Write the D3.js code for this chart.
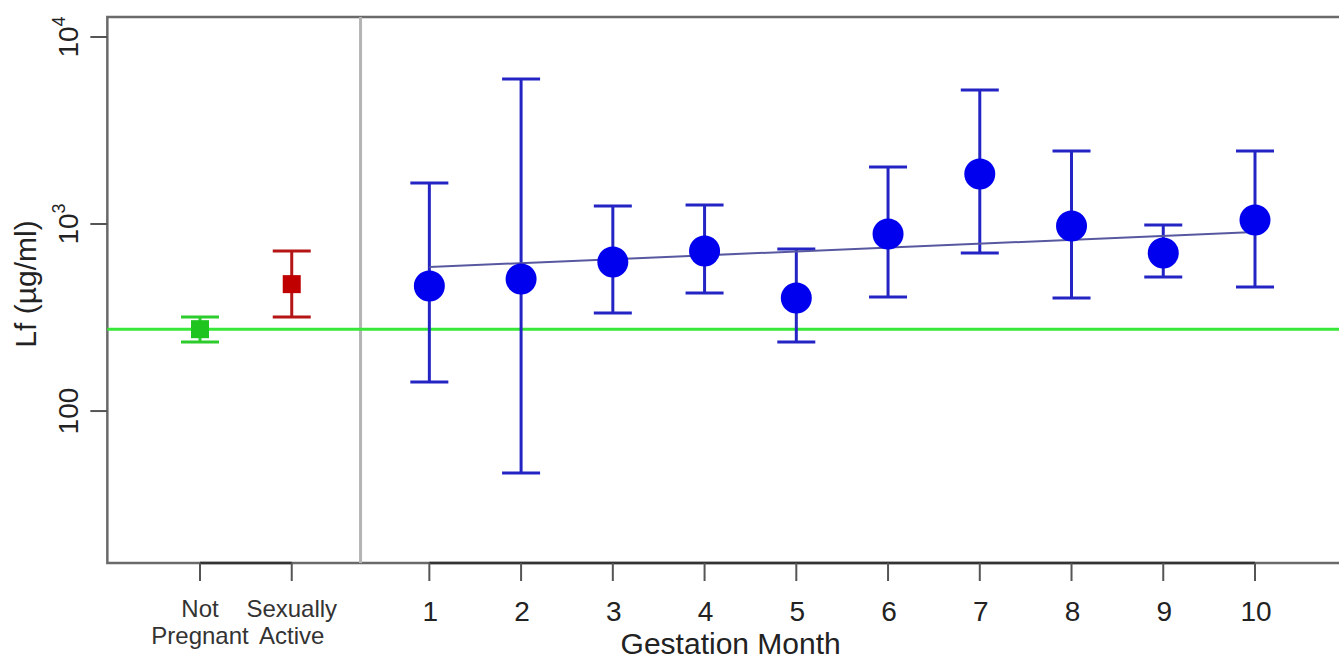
<!DOCTYPE html>
<html>
<head>
<meta charset="utf-8">
<script src="https://cdn.jsdelivr.net/npm/d3@7"></script>
<style>
  body { margin: 0; background: #fff; }
  svg { display: block; font-family: "Liberation Sans", Arial, sans-serif; }
</style>
</head>
<body>
<div id="chart"></div>
<script>
// ------------------------------------------------------
// Data (Lf in µg/ml, log scale)

// Reference groups on the left
const groupLabels = [['Not', 'Pregnant'], ['Sexually', 'Active']]
const groupPos = [-1.5, -0.5]
const groupMean = [274, 477]
const groupUpper = [318, 718]
const groupLower = [234, 318]
const groupColors = ['#1fc41f', '#c00000']
const groupBarColors = ['#2ccc2c', '#b51515']

// Gestation months
const months = [1, 2, 3, 4, 5, 6, 7, 8, 9, 10]
const monthMean = [466, 508, 627, 718, 402, 884, 1850, 975, 700, 1050]
const monthUpper = [1656, 5960, 1248, 1264, 735, 2018, 5210, 2455, 988, 2455]
const monthLower = [143, 46.6, 334, 428, 234, 407, 700, 402, 521, 461]

// Fitted trend (month 1 -> month 10) and the not-pregnant reference level
const fitMonths = [1, 10]
const fitValues = [589, 906]
const baseline = 274

// Y ticks
const yTicks = [100, 1000, 10000]

// ------------------------------------------------------
// Size and scales
const width = 1339
const height = 662

const x = d3.scaleLinear()
	.domain([-1.5, 10])
	.range([200, 1255])

const y = d3.scaleLog()
	.domain([15.4, 12790])
	.range([563, 17])

const boxLeft = x(-2.51)
const boxRight = 1354 // the right edge of the box sits just past the picture
const boxTop = y.range()[1]
const boxBottom = y.range()[0]

const svg = d3.select('#chart')
	.append('svg')
	.attr('width', width)
	.attr('height', height)

// ------------------------------------------------------
// Plot box
svg.append('rect')
	.attr('x', boxLeft)
	.attr('y', boxTop)
	.attr('width', boxRight - boxLeft)
	.attr('height', boxBottom - boxTop)
	.attr('fill', 'none')
	.attr('stroke', '#6a6a6a')
	.attr('stroke-width', 2.5)

// Separator between reference groups and months
svg.append('line')
	.attr('x1', x(0.25)).attr('x2', x(0.25))
	.attr('y1', boxTop).attr('y2', boxBottom)
	.attr('stroke', '#b4b4b4')
	.attr('stroke-width', 3)

// Not-pregnant reference level
svg.append('line')
	.attr('x1', boxLeft).attr('x2', width)
	.attr('y1', y(baseline)).attr('y2', y(baseline))
	.attr('stroke', '#38e838')
	.attr('stroke-width', 3)

// ------------------------------------------------------
// Y axis (ticks only, labels rotated like R)
const yAxis = svg.append('g')

yAxis.selectAll('line')
	.data(yTicks)
	.enter()
	.append('line')
	.attr('x1', boxLeft - 17).attr('x2', boxLeft)
	.attr('y1', d => y(d)).attr('y2', d => y(d))
	.attr('stroke', '#555')
	.attr('stroke-width', 2)

const yLab = yAxis.selectAll('text')
	.data(yTicks)
	.enter()
	.append('text')
	.attr('transform', d => `translate(78, ${y(d)}) rotate(-90)`)
	.attr('text-anchor', 'middle')
	.attr('font-size', 28)
	.attr('fill', '#222')

yLab.each(function (d) {
	const t = d3.select(this)
	const exp = Math.round(Math.log10(d))
	if (exp <= 2) {
		t.text(d)
	} else {
		t.append('tspan').text('10')
		t.append('tspan')
			.attr('dy', -13)
			.attr('font-size', 18)
			.text(exp)
	}
})

svg.append('text')
	.attr('transform', `translate(36, ${(boxTop + boxBottom) / 2 - 6}) rotate(-90)`)
	.attr('text-anchor', 'middle')
	.attr('font-size', 30)
	.attr('fill', '#222')
	.text('Lf (µg/ml)')

// ------------------------------------------------------
// X axis: two dark segments over the box line, like R's axis()
const xAxis = svg.append('g')

const segments = [groupPos, months]
xAxis.selectAll('line.seg')
	.data(segments)
	.enter()
	.append('line')
	.attr('class', 'seg')
	.attr('x1', d => x(d3.min(d))).attr('x2', d => x(d3.max(d)))
	.attr('y1', boxBottom).attr('y2', boxBottom)
	.attr('stroke', '#333')
	.attr('stroke-width', 2.5)

xAxis.selectAll('line.tick')
	.data(groupPos.concat(months))
	.enter()
	.append('line')
	.attr('class', 'tick')
	.attr('x1', d => x(d)).attr('x2', d => x(d))
	.attr('y1', boxBottom).attr('y2', boxBottom + 18)
	.attr('stroke', '#555')
	.attr('stroke-width', 2)

xAxis.selectAll('text.month')
	.data(months)
	.enter()
	.append('text')
	.attr('class', 'month')
	.attr('x', d => x(d) + 1)
	.attr('y', 621)
	.attr('text-anchor', 'middle')
	.attr('font-size', 28)
	.attr('fill', '#222')
	.text(d => d)

xAxis.selectAll('text.group')
	.data(groupLabels)
	.enter()
	.append('text')
	.attr('class', 'group')
	.attr('text-anchor', 'middle')
	.attr('font-size', 24)
	.attr('fill', '#333')
	.each(function (lines, i) {
		d3.select(this).selectAll('tspan')
			.data(lines)
			.enter()
			.append('tspan')
			.attr('x', x(groupPos[i]))
			.attr('y', (d, j) => 617 + j * 27)
			.text(d => d)
	})

svg.append('text')
	.attr('x', (boxLeft + boxRight) / 2)
	.attr('y', 654)
	.attr('text-anchor', 'middle')
	.attr('font-size', 30)
	.attr('fill', '#222')
	.text('Gestation Month')

// ------------------------------------------------------
// Error bars helper
function drawBars(g, xs, lo, hi, color) {
	const idx = d3.range(xs.length)
	g.selectAll('line.stem')
		.data(idx)
		.enter()
		.append('line')
		.attr('x1', i => x(xs[i])).attr('x2', i => x(xs[i]))
		.attr('y1', i => y(lo[i])).attr('y2', i => y(hi[i]))
		.attr('stroke', color)
		.attr('stroke-width', 3)
	const caps = idx.flatMap(i => [[xs[i], lo[i]], [xs[i], hi[i]]])
	g.selectAll('line.cap')
		.data(caps)
		.enter()
		.append('line')
		.attr('x1', d => x(d[0]) - 19).attr('x2', d => x(d[0]) + 19)
		.attr('y1', d => y(d[1])).attr('y2', d => y(d[1]))
		.attr('stroke', color)
		.attr('stroke-width', 3)
}

// Reference groups
groupPos.forEach((p, i) => {
	const g = svg.append('g')
	drawBars(g, [p], [groupLower[i]], [groupUpper[i]], groupBarColors[i])
	g.append('rect')
		.attr('x', x(p) - 9)
		.attr('y', y(groupMean[i]) - 9)
		.attr('width', 18)
		.attr('height', 18)
		.attr('fill', groupColors[i])
})

// Months
const mg = svg.append('g')
drawBars(mg, months, monthLower, monthUpper, '#2424c4')

svg.append('path')
	.datum(fitMonths.map((m, i) => [m, fitValues[i]]))
	.attr('d', d3.line().x(d => x(d[0])).y(d => y(d[1])))
	.attr('fill', 'none')
	.attr('stroke', '#5858a0')
	.attr('stroke-width', 2)

svg.append('g')
	.selectAll('circle')
	.data(months)
	.enter()
	.append('circle')
	.attr('cx', d => x(d))
	.attr('cy', (d, i) => y(monthMean[i]))
	.attr('r', 15.5)
	.attr('fill', '#0000ee')
</script>
</body>
</html>
